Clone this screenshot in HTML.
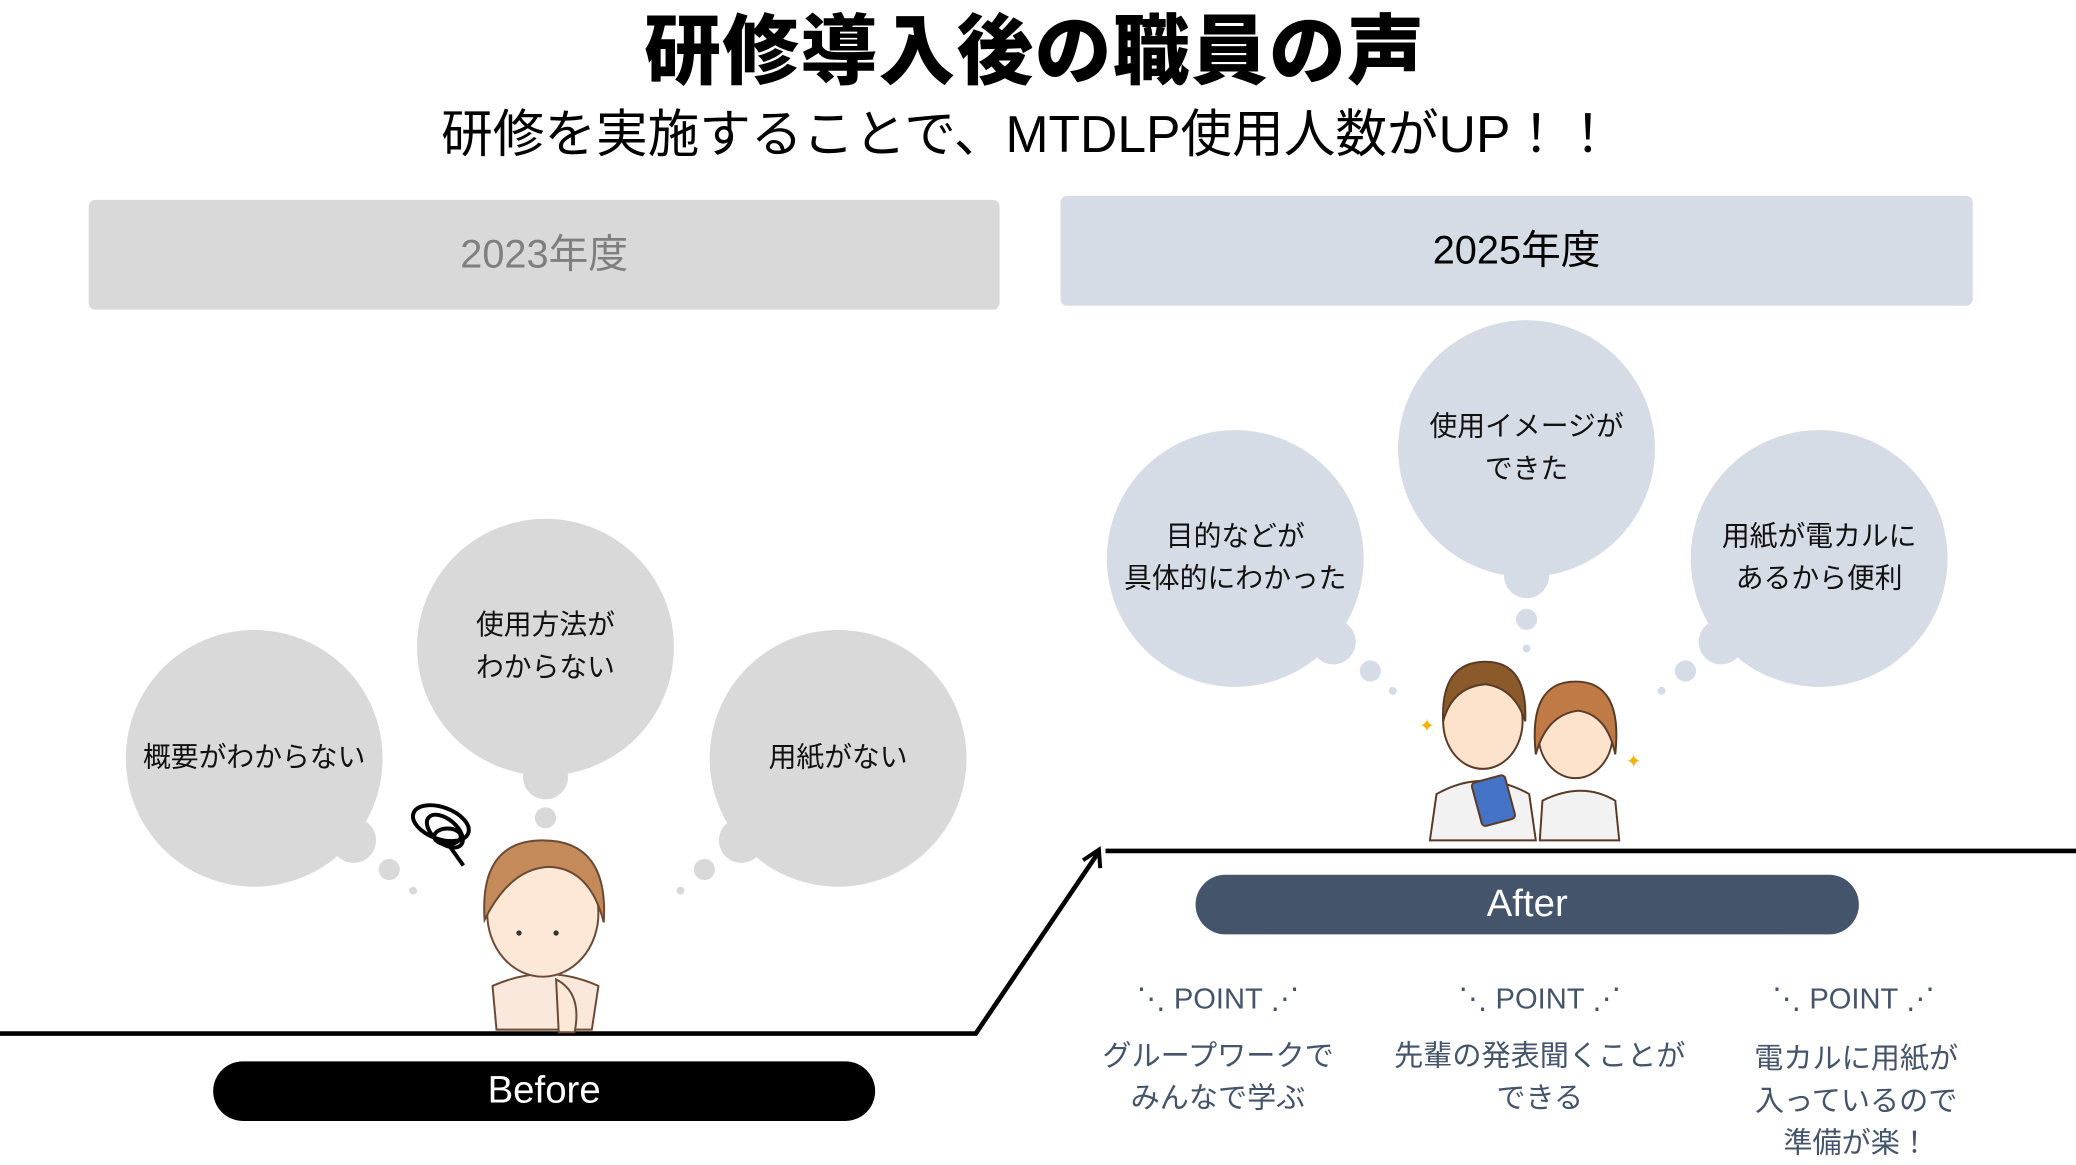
<!DOCTYPE html>
<html><head><meta charset="utf-8"><style>
html,body{margin:0;padding:0;background:#fff;width:2076px;height:1158px;overflow:hidden}
#s{position:absolute;left:0;top:0;width:1568px;height:875px;transform:scale(1.32398,1.32343);transform-origin:0 0;font-family:"Liberation Sans","Noto Sans CJK JP",sans-serif}
.a{position:absolute}
.c{position:absolute;border-radius:50%}
.g{background:#d9d9d9}.b{background:#d6dce5}
.t{position:absolute;text-align:center;font-size:21px;line-height:32px;color:#111;transform:translate(-50%,-50%);white-space:nowrap}
.pt{position:absolute;text-align:center;font-size:22px;color:#44546a;transform:translateX(-50%);white-space:nowrap}
.pd{position:absolute;text-align:center;font-size:22px;line-height:32px;color:#44546a;transform:translateX(-50%);white-space:nowrap}
</style></head><body><div id="s">
<div class="a" style="left:0;width:1563px;top:-8px;text-align:center;font-size:58px;font-weight:900;letter-spacing:1px">研修導入後の職員の声</div>
<div class="a" style="left:0;width:1552px;top:71px;text-align:center;font-size:39px">研修を実施することで、MTDLP使用人数がUP！！</div>
<div class="a" style="left:67px;top:151px;width:688px;height:83px;background:#d9d9d9;border-radius:5px;text-align:center;line-height:83px;font-size:30px;color:#7f7f7f">2023年度</div>
<div class="a" style="left:801px;top:148px;width:689px;height:83px;background:#d6dce5;border-radius:5px;text-align:center;line-height:83px;font-size:30px;color:#000">2025年度</div>

<div class="c g" style="left:95px;top:476px;width:194px;height:194px"></div>
<div class="c g" style="left:250px;top:618px;width:34px;height:34px"></div>
<div class="c g" style="left:286px;top:649px;width:16px;height:16px"></div>
<div class="c g" style="left:309px;top:670px;width:6px;height:6px"></div>
<div class="c g" style="left:315px;top:392px;width:194px;height:194px"></div>
<div class="c g" style="left:395px;top:570px;width:34px;height:34px"></div>
<div class="c g" style="left:404px;top:610px;width:16px;height:16px"></div>
<div class="c g" style="left:536px;top:476px;width:194px;height:194px"></div>
<div class="c g" style="left:543px;top:618px;width:34px;height:34px"></div>
<div class="c g" style="left:524px;top:649px;width:16px;height:16px"></div>
<div class="c g" style="left:511px;top:670px;width:6px;height:6px"></div>
<div class="t" style="left:192px;top:573px">概要がわからない</div>
<div class="t" style="left:412px;top:489px">使用方法が<br>わからない</div>
<div class="t" style="left:633px;top:573px">用紙がない</div>

<div class="c b" style="left:836px;top:325px;width:194px;height:194px"></div>
<div class="c b" style="left:990px;top:468px;width:34px;height:34px"></div>
<div class="c b" style="left:1027px;top:499px;width:16px;height:16px"></div>
<div class="c b" style="left:1049px;top:519px;width:6px;height:6px"></div>
<div class="c b" style="left:1056px;top:242px;width:194px;height:194px"></div>
<div class="c b" style="left:1136px;top:418px;width:34px;height:34px"></div>
<div class="c b" style="left:1145px;top:460px;width:16px;height:16px"></div>
<div class="c b" style="left:1150px;top:487px;width:6px;height:6px"></div>
<div class="c b" style="left:1277px;top:325px;width:194px;height:194px"></div>
<div class="c b" style="left:1283px;top:468px;width:34px;height:34px"></div>
<div class="c b" style="left:1265px;top:499px;width:16px;height:16px"></div>
<div class="c b" style="left:1252px;top:519px;width:6px;height:6px"></div>
<div class="t" style="left:933px;top:422px">目的などが<br>具体的にわかった</div>
<div class="t" style="left:1153px;top:339px">使用イメージが<br>できた</div>
<div class="t" style="left:1374px;top:422px">用紙が電カルに<br>あるから便利</div>

<svg class="a" style="left:0;top:0" width="1568" height="875">
<polyline points="0,781 737,781 829,645" fill="none" stroke="#000" stroke-width="3.5"/>
<polyline points="818,650 830,642 831,656" fill="none" stroke="#000" stroke-width="3"/>
<line x1="835" y1="643" x2="1568" y2="643" stroke="#000" stroke-width="3.5"/>
<g fill="none" stroke="#000" stroke-width="3">
<ellipse cx="333" cy="622" rx="22" ry="12" transform="rotate(20 333 622)"/>
<ellipse cx="336" cy="628" rx="16" ry="9" transform="rotate(40 336 628)"/>
<ellipse cx="338" cy="632" rx="10" ry="6"/>
<path d="M340 640 L350 654"/>
</g>
<g stroke="#6b4a35" stroke-width="1.5">
<path d="M372 745 q40 -18 80 0 l-5 33 h-72z" fill="#fbe8dc"/>
<ellipse cx="410" cy="690" rx="42" ry="48" fill="#fde7d6"/>
<path d="M366 695 q-4 -60 44 -60 q50 0 46 62 q-10 -40 -40 -42 q-30 0 -50 40z" fill="#c58a5a"/>
<path d="M420 740 q20 10 14 40 h-12z" fill="#fde7d6"/>
</g>
<circle cx="392" cy="705" r="2" fill="#333"/><circle cx="420" cy="705" r="2" fill="#333"/>
<g stroke="#5a3b28" stroke-width="1.5">
<path d="M1085 600 q35 -20 70 0 l5 35 h-80z" fill="#f2f2f2"/>
<ellipse cx="1120" cy="545" rx="30" ry="36" fill="#fde2cc"/>
<path d="M1090 545 q-2 -45 32 -45 q32 0 30 45 q-8 -25 -30 -28 q-25 2 -32 28z" fill="#8a5a2b"/>
<rect x="1115" y="588" width="26" height="34" rx="3" fill="#4472c4" transform="rotate(-15 1128 605)"/>
<path d="M1165 605 q30 -15 55 0 l3 30 h-60z" fill="#f2f2f2"/>
<ellipse cx="1190" cy="555" rx="28" ry="33" fill="#fde2cc"/>
<path d="M1160 570 q-6 -55 30 -55 q36 0 30 55 q-6 -30 -28 -33 q-24 3 -32 33z" fill="#c07a45"/>
</g>
<text x="1072" y="553" font-size="14" fill="#f0b400">✦</text>
<text x="1228" y="580" font-size="14" fill="#f0b400">✦</text>
</svg>

<div class="a" style="left:161px;top:802px;width:500px;height:45px;background:#000;border-radius:23px;color:#fff;text-align:center;line-height:45px;font-size:29px">Before</div>
<div class="a" style="left:903px;top:661px;width:501px;height:45px;background:#44546a;border-radius:23px;color:#fff;text-align:center;line-height:45px;font-size:29px">After</div>

<div class="pt" style="left:920px;top:742px">⋱ POINT ⋰</div>
<div class="pt" style="left:1163px;top:742px">⋱ POINT ⋰</div>
<div class="pt" style="left:1400px;top:742px">⋱ POINT ⋰</div>
<div class="pd" style="left:920px;top:782px">グループワークで<br>みんなで学ぶ</div>
<div class="pd" style="left:1163px;top:782px">先輩の発表聞くことが<br>できる</div>
<div class="pd" style="left:1402px;top:784px">電カルに用紙が<br>入っているので<br>準備が楽！</div>
</div></body></html>
